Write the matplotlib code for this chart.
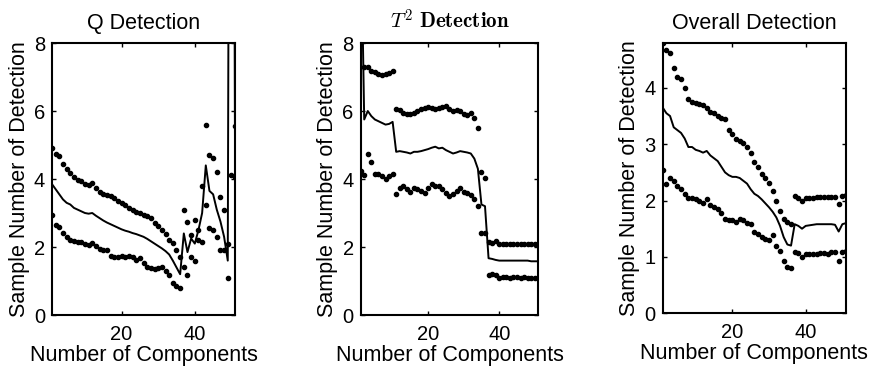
"""Curvas de detección Q, T^2 y global frente al número de componentes."""

from __future__ import annotations

import matplotlib
import numpy as np

matplotlib.use("Agg")
from matplotlib import pyplot as plt  # noqa: E402

OUTPUT = "out.png"

COMPONENTS = np.arange(1, 52)

Q_UPPER = [
    4.92, 4.75, 4.68, 4.45, 4.3, 4.18, 4.05, 3.97, 3.93, 3.85,
    3.83, 3.88, 3.75, 3.62, 3.57, 3.53, 3.5, 3.45, 3.35, 3.29,
    3.25, 3.15, 3.1, 3.04, 3.0, 2.94, 2.9, 2.85, 2.72, 2.62,
    2.5, 2.38, 2.2, 2.12, 1.9, 1.7, 3.1, 2.75, 2.35, 2.8,
    2.5, 3.8, 5.6, 4.72, 4.62, 4.22, 3.48, 3.1, 2.1, 60.0,
    5.55,
]
Q_MEAN = [
    3.85, 3.7, 3.55, 3.4, 3.3, 3.25, 3.15, 3.1, 3.05, 3.0,
    2.98, 3.0, 2.92, 2.85, 2.78, 2.72, 2.67, 2.62, 2.57, 2.52,
    2.48, 2.45, 2.41, 2.38, 2.34, 2.3, 2.24, 2.17, 2.1, 2.03,
    1.96, 1.88, 1.78, 1.6, 1.4, 1.2, 2.4, 1.85, 2.25, 2.1,
    2.5, 3.0, 4.4, 3.65, 3.55, 3.1, 2.75, 2.3, 1.6, 40.0,
    4.1,
]
Q_LOWER = [
    2.95, 2.65, 2.6, 2.4, 2.3, 2.22, 2.18, 2.16, 2.15, 2.1,
    2.05, 2.12, 2.02, 1.95, 1.92, 1.9, 1.74, 1.72, 1.72, 1.75,
    1.7, 1.73, 1.7, 1.62, 1.67, 1.52, 1.42, 1.37, 1.34, 1.37,
    1.42, 1.3, 1.18, 0.95, 0.84, 0.8, 1.42, 1.18, 1.72, 1.6,
    2.2, 2.15, 3.25, 2.57, 2.5, 2.3, 1.9, 1.9, 1.1, 4.12,
    4.05,
]

T2_UPPER = [
    8.1, 7.3, 7.28, 7.18, 7.15, 7.1, 7.05, 7.08, 7.12, 7.18,
    6.05, 6.02, 5.95, 5.92, 5.9, 5.95, 6.0, 6.05, 6.1, 6.12,
    6.08, 6.05, 6.08, 6.12, 6.15, 6.05, 6.0, 6.02, 6.0, 5.92,
    5.88, 5.95, 5.8, 5.5, 4.22, 4.02, 2.16, 2.12, 2.18, 2.08,
    2.1, 2.1, 2.08, 2.1, 2.1, 2.1, 2.08, 2.1, 2.08, 2.08,
    2.05,
]
T2_MEAN = [
    12.0, 5.75, 6.0, 5.85, 5.75, 5.7, 5.65, 5.6, 5.62, 5.68,
    4.8, 4.82, 4.8, 4.78, 4.75, 4.8, 4.8, 4.82, 4.85, 4.88,
    4.92, 4.95, 4.9, 4.92, 4.85, 4.8, 4.75, 4.78, 4.82, 4.8,
    4.78, 4.75, 4.6, 4.3, 3.25, 3.2, 1.67, 1.65, 1.62, 1.6,
    1.6, 1.6, 1.6, 1.6, 1.6, 1.6, 1.6, 1.6, 1.58, 1.58,
    1.58,
]
T2_LOWER = [
    4.25, 4.12, 4.73, 4.5, 4.15, 4.15, 4.1, 4.0, 4.08, 4.15,
    3.55, 3.75, 3.8, 3.7, 3.62, 3.75, 3.72, 3.65, 3.6, 3.75,
    3.85, 3.78, 3.8, 3.72, 3.58, 3.5, 3.55, 3.65, 3.75, 3.62,
    3.6, 3.52, 3.4, 3.22, 2.42, 2.4, 1.18, 1.2, 1.18, 1.1,
    1.12, 1.12, 1.1, 1.12, 1.12, 1.1, 1.12, 1.1, 1.1, 1.08,
    1.08,
]

ALL_UPPER = [
    4.8, 4.68, 4.62, 4.36, 4.2, 4.15, 4.0, 3.8, 3.75, 3.73,
    3.72, 3.7, 3.65, 3.58, 3.55, 3.5, 3.47, 3.45, 3.25, 3.18,
    3.1, 3.06, 3.02, 2.95, 2.85, 2.68, 2.6, 2.47, 2.4, 2.32,
    2.17, 2.0, 1.82, 1.68, 1.62, 1.58, 2.08, 2.05, 2.0, 2.04,
    2.05, 2.05, 2.06, 2.06, 2.06, 2.06, 2.06, 2.07, 1.93, 2.08,
    2.1,
]
ALL_MEAN = [
    3.65, 3.55, 3.5, 3.3, 3.25, 3.2, 3.1, 2.95, 2.95, 2.9,
    2.88, 2.85, 2.88, 2.8, 2.75, 2.7, 2.6, 2.5, 2.45, 2.42,
    2.42, 2.4, 2.35, 2.3, 2.2, 2.12, 2.08, 2.02, 1.95, 1.88,
    1.8, 1.7, 1.55, 1.35, 1.22, 1.2, 1.58, 1.55, 1.5, 1.55,
    1.56, 1.57, 1.58, 1.58, 1.58, 1.58, 1.58, 1.57, 1.45, 1.58,
    1.6,
]
ALL_LOWER = [
    2.55, 2.3, 2.4, 2.35, 2.25, 2.2, 2.12, 2.05, 2.05, 2.03,
    2.0, 1.95, 2.03, 1.92, 1.88, 1.85, 1.78, 1.68, 1.65, 1.65,
    1.62, 1.68, 1.65, 1.6, 1.58, 1.45, 1.4, 1.35, 1.32, 1.3,
    1.38, 1.2, 1.1, 0.92, 0.82, 0.8, 1.08, 1.07, 1.0, 1.05,
    1.05, 1.06, 1.06, 1.07, 1.07, 1.06, 1.08, 1.08, 0.92, 1.08,
    1.1,
]

TITLES = ("Q Detection", r"$T^2\ \mathbf{Detection}$", "Overall Detection")
X_TICKS = (20, 40)
Y_TICKS = ((0, 2, 4, 6, 8), (0, 2, 4, 6, 8), (0, 1, 2, 3, 4))
Y_LIMITS = ((0, 8), (0, 8), (0, max(ALL_UPPER)))

# posiciones medidas sobre la imagen original (fracción de figura)
AXES_RECTS = (
    (0.0596, 0.1532, 0.2100, 0.7312),
    (0.4136, 0.1532, 0.2037, 0.7312),
    (0.7600, 0.1580, 0.2102, 0.7270),
)

FONT = "Liberation Sans"


def draw_panel(axis, title, upper, mean, lower, y_limits, y_ticks):
    axis.plot(COMPONENTS, mean, color="black", linewidth=1.4)
    axis.plot(COMPONENTS, upper, linestyle="none", marker="o",
              markersize=3.0, color="black")
    axis.plot(COMPONENTS, lower, linestyle="none", marker="o",
              markersize=3.0, color="black")
    axis.set_xlim(1, 51)
    axis.set_ylim(*y_limits)
    axis.set_xticks(X_TICKS)
    axis.set_yticks(y_ticks)
    axis.tick_params(direction="in", length=3, width=1.0, top=True,
                     right=True, labelsize=14.5, pad=5)
    axis.tick_params(axis="x", pad=7)
    for label in axis.get_xticklabels() + axis.get_yticklabels():
        label.set_fontfamily(FONT)
    for spine in axis.spines.values():
        spine.set_linewidth(1.5)
    axis.set_xlabel("Number of Components", fontsize=15.5, family=FONT,
                    labelpad=1)
    axis.set_ylabel("Sample Number of Detection", fontsize=15.5,
                    family=FONT, labelpad=3)
    if title.startswith("$"):
        axis.set_title(title, fontsize=15, pad=10)
    else:
        axis.set_title(title, fontsize=15.5, family=FONT, pad=10)


def main():
    plt.rcParams["mathtext.fontset"] = "cm"
    figure = plt.figure(figsize=(8.72, 3.72), dpi=100)
    series = (
        (Q_UPPER, Q_MEAN, Q_LOWER),
        (T2_UPPER, T2_MEAN, T2_LOWER),
        (ALL_UPPER, ALL_MEAN, ALL_LOWER),
    )
    for index, (upper, mean, lower) in enumerate(series):
        axis = figure.add_axes(AXES_RECTS[index])
        draw_panel(axis, TITLES[index], upper, mean, lower,
                   Y_LIMITS[index], Y_TICKS[index])
    figure.savefig(OUTPUT, dpi=100, facecolor="white")
    plt.close(figure)


if __name__ == "__main__":
    main()
